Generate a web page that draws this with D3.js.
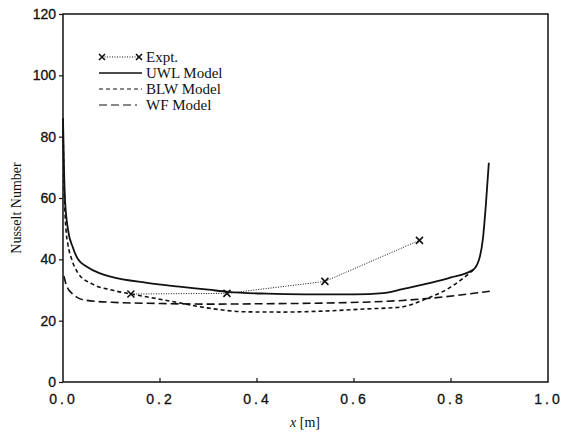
<!DOCTYPE html>
<html>
<head>
<meta charset="utf-8">
<script src="https://cdn.jsdelivr.net/npm/d3@7"></script>
<style>
  body { margin: 0; background: #fff; }
  svg { display: block; }
  .tick-label { font-family: 'Liberation Sans', Arial, sans-serif; font-size: 14px; fill: #111; stroke: #111; stroke-width: 0.3px; }
  .serif { font-family: 'Liberation Serif', 'Times New Roman', serif; font-size: 14px; fill: #111; }
  .legend-text { font-size: 15px; }
</style>
</head>
<body>
<div class="graph"></div>
<script>
const width = 565;
const height = 436;
const margin = {top: 14, right: 17, bottom: 54, left: 63};

// x [m], Nusselt number
const expt = [[0.14, 28.7], [0.338, 28.9], [0.54, 32.8], [0.735, 46.2]];

const uwl = [
  [0, 86], [0.002, 70], [0.004, 60], [0.01, 50], [0.02, 44], [0.031, 40],
  [0.05, 37.5], [0.075, 35.5], [0.1, 34.3], [0.17, 32.4], [0.24, 31.1],
  [0.3, 30.1], [0.34, 29.4], [0.42, 28.8], [0.5, 28.6], [0.6, 28.6],
  [0.66, 29], [0.7, 30.3], [0.76, 32.4], [0.8, 34.1], [0.845, 36.5],
  [0.858, 40], [0.866, 47], [0.872, 58], [0.878, 71.5]
];

const blw = [
  [0, 82], [0.003, 60], [0.006, 50], [0.01, 45], [0.018, 40], [0.031, 35.5],
  [0.06, 32], [0.1, 30], [0.14, 28.7], [0.2, 27], [0.24, 25.8], [0.3, 24.1],
  [0.375, 22.9], [0.45, 22.8], [0.55, 23.2], [0.62, 23.8], [0.695, 24.4],
  [0.75, 27.2], [0.8, 31], [0.848, 36.8]
];

const wf = [
  [0.002, 34.5], [0.006, 32], [0.012, 30], [0.018, 29], [0.03, 27.5],
  [0.045, 26.7], [0.1, 26], [0.2, 25.6], [0.3, 25.4], [0.4, 25.5],
  [0.56, 25.8], [0.7, 26.6], [0.763, 27.4], [0.88, 29.6]
];

const xTicks = [0, 0.2, 0.4, 0.6, 0.8, 1.0];
const yTicks = [0, 20, 40, 60, 80, 100, 120];

const legendItems = [
  {label: 'Expt.', type: 'expt'},
  {label: 'UWL Model', dash: null},
  {label: 'BLW Model', dash: '4,3'},
  {label: 'WF Model', dash: '8,4'}
];

const svg = d3.select('.graph')
  .append('svg')
    .attr('width', width)
    .attr('height', height);

const x = d3.scaleLinear().domain([0, 1]).range([margin.left, width - margin.right]);
const y = d3.scaleLinear().domain([0, 120]).range([height - margin.bottom, margin.top]);

// frame
svg.append('rect')
  .attr('x', x(0))
  .attr('y', y(120))
  .attr('width', x(1) - x(0))
  .attr('height', y(0) - y(120))
  .attr('fill', 'none')
  .attr('stroke', '#111')
  .attr('stroke-width', 1.5);

// y axis: outward ticks
svg.append('g')
  .attr('transform', `translate(${x(0)},0)`)
  .call(d3.axisLeft(y).tickValues(yTicks).tickSize(4).tickPadding(3).tickFormat(d3.format('d')))
  .call(g => g.select('.domain').remove())
  .call(g => g.selectAll('line').attr('stroke', '#111').attr('stroke-width', 1.2))
  .call(g => g.selectAll('text').attr('class', 'tick-label').attr('font-size', null).attr('font-family', null));

// x axis: inward ticks, labels spaced out
svg.append('g')
  .attr('transform', `translate(0,${y(0)})`)
  .call(d3.axisBottom(x).tickValues(xTicks).tickSize(0).tickPadding(12).tickFormat(d3.format('.1f')))
  .call(g => g.select('.domain').remove())
  .call(g => g.selectAll('text').attr('class', 'tick-label').attr('font-size', null).attr('font-family', null)
    .style('letter-spacing', '3px'));

svg.append('g')
  .selectAll('line')
  .data(xTicks.filter(d => d > 0 && d < 1))
  .join('line')
    .attr('x1', d => x(d))
    .attr('x2', d => x(d))
    .attr('y1', y(0))
    .attr('y2', y(0) - 4)
    .attr('stroke', '#111')
    .attr('stroke-width', 1.2);

// axis titles
svg.append('text')
  .attr('class', 'serif')
  .attr('x', 305)
  .attr('y', 427)
  .attr('text-anchor', 'middle')
  .html('<tspan font-style="italic">x</tspan> [m]');

svg.append('text')
  .attr('class', 'serif')
  .attr('transform', `translate(21,${(y(0) + y(120)) / 2 + 10}) rotate(-90)`)
  .attr('text-anchor', 'middle')
  .text('Nusselt Number');

const line = d3.line()
  .x(d => x(d[0]))
  .y(d => y(d[1]))
  .curve(d3.curveMonotoneX);

const curves = svg.append('g').attr('fill', 'none').attr('stroke', '#111');

curves.append('path')
  .attr('d', line(wf))
  .attr('stroke-width', 1.6)
  .attr('stroke-dasharray', '8,4');

curves.append('path')
  .attr('d', line(blw))
  .attr('stroke-width', 1.6)
  .attr('stroke-dasharray', '4,3');

curves.append('path')
  .attr('d', line(uwl))
  .attr('stroke-width', 1.8);

curves.append('path')
  .attr('d', d3.line().x(d => x(d[0])).y(d => y(d[1]))(expt))
  .attr('stroke-width', 1)
  .attr('stroke-dasharray', '1,1.5');

function cross(sel, s) {
  sel.append('path')
    .attr('d', `M${-s},${-s}L${s},${s}M${-s},${s}L${s},${-s}`)
    .attr('stroke', '#111')
    .attr('stroke-width', 1.6)
    .attr('fill', 'none');
}

svg.append('g')
  .selectAll('g')
  .data(expt)
  .join('g')
    .attr('transform', d => `translate(${x(d[0])},${y(d[1])})`)
    .each(function() { cross(d3.select(this), 3.5); });

// legend
const legend = svg.append('g');
const rowY = [57, 73, 89, 105];

legendItems.forEach((item, i) => {
  const row = legend.append('g').attr('transform', `translate(0,${rowY[i]})`);
  if (item.type === 'expt') {
    row.append('line')
      .attr('x1', 102).attr('x2', 139).attr('y1', 0).attr('y2', 0)
      .attr('stroke', '#111').attr('stroke-width', 1).attr('stroke-dasharray', '1,1.5');
    [102, 139].forEach(cx => {
      const m = row.append('g').attr('transform', `translate(${cx},0)`);
      cross(m, 3);
    });
  } else {
    row.append('line')
      .attr('x1', 99).attr('x2', i === 3 ? 137 : 142).attr('y1', 0).attr('y2', 0)
      .attr('stroke', '#111')
      .attr('stroke-width', i === 1 ? 1.4 : 1.2)
      .attr('stroke-dasharray', item.dash);
  }
  row.append('text')
    .attr('class', 'serif legend-text')
    .attr('x', 146)
    .attr('y', 5)
    .text(item.label);
});
</script>
</body>
</html>
